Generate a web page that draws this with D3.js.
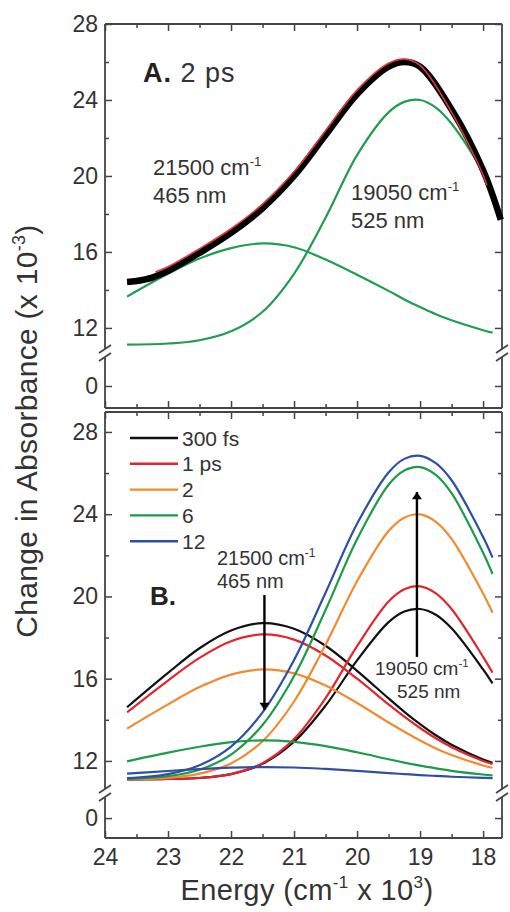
<!DOCTYPE html>
<html>
<head>
<meta charset="utf-8">
<script src="https://cdn.jsdelivr.net/npm/d3@7"></script>
<style>
  body { margin: 0; background: #fff; }
  svg text { font-family: "Liberation Sans", Arial, Helvetica, sans-serif; }
</style>
</head>
<body>
<svg id="chart" width="510" height="912"></svg>
<script>
// ---------- Panel A: 2 ps spectrum, fit and its two bands ----------
const energyA2ps = [23.65, 23.5, 23.25, 23.0, 22.5, 22.0, 21.5, 21.0, 20.5, 20.0, 19.5, 19.25, 19.0, 18.5, 18.0, 17.72];
const data2ps    = [14.42, 14.47, 14.65, 15.0, 15.95, 17.0, 18.3, 20.0, 22.15, 24.3, 25.75, 26.0, 25.75, 23.5, 20.3, 17.7];

const energyFit = [23.2, 23.0, 22.5, 22.0, 21.5, 21.0, 20.5, 20.0, 19.5, 19.25, 19.0, 18.5, 18.0, 17.94];
const fit2ps    = [14.95, 15.22, 16.17, 17.22, 18.52, 20.22, 22.38, 24.52, 25.93, 26.15, 25.82, 23.35, 20.05, 19.5];

const energyBands = [23.65, 23.0, 22.5, 22.0, 21.5, 21.0, 20.5, 20.0, 19.5, 19.25, 19.0, 18.75, 18.5, 18.0, 17.85];
const band465A = [13.65, 14.85, 15.65, 16.2, 16.45, 16.25, 15.6, 14.8, 13.95, 13.5, 13.1, 12.72, 12.4, 11.88, 11.75];
const band525A = [11.12, 11.18, 11.35, 11.82, 12.85, 14.85, 17.8, 21.1, 23.35, 23.9, 24.0, 23.6, 22.75, 20.2, 19.2];

// ---------- Panel B: band decomposition at each delay ----------
const energyB = [23.65, 23.0, 22.5, 22.0, 21.5, 21.0, 20.5, 20.0, 19.5, 19.25, 19.0, 18.75, 18.5, 18.0, 17.85];
const delays = ["300 fs", "1 ps", "2", "6", "12"];
const band465B = [
  [14.61, 16.28, 17.48, 18.34, 18.70, 18.43, 17.60, 16.38, 15.04, 14.39, 13.79, 13.25, 12.79, 12.07, 11.91],
  [14.36, 15.91, 17.01, 17.82, 18.15, 17.90, 17.13, 16.00, 14.75, 14.15, 13.60, 13.10, 12.67, 12.00, 11.85],
  [13.57, 14.75, 15.59, 16.20, 16.45, 16.26, 15.67, 14.82, 13.87, 13.42, 12.99, 12.61, 12.29, 11.78, 11.67],
  [11.98, 12.40, 12.69, 12.91, 13.00, 12.93, 12.72, 12.42, 12.08, 11.92, 11.77, 11.64, 11.52, 11.34, 11.30],
  [11.38, 11.51, 11.60, 11.67, 11.70, 11.68, 11.61, 11.52, 11.41, 11.36, 11.31, 11.27, 11.23, 11.18, 11.16]
];
const band525B = [
  [11.10, 11.12, 11.17, 11.36, 11.86, 12.93, 14.69, 16.89, 18.75, 19.27, 19.39, 19.11, 18.45, 16.45, 15.77],
  [11.10, 11.12, 11.17, 11.36, 11.89, 13.06, 15.05, 17.58, 19.75, 20.35, 20.49, 20.15, 19.39, 17.06, 16.29],
  [11.11, 11.18, 11.38, 11.88, 12.96, 14.89, 17.65, 20.74, 23.18, 23.83, 23.99, 23.63, 22.80, 20.14, 19.21],
  [11.13, 11.26, 11.57, 12.31, 13.75, 16.12, 19.34, 22.78, 25.43, 26.12, 26.29, 25.91, 25.02, 22.12, 21.09],
  [11.16, 11.36, 11.79, 12.70, 14.36, 16.91, 20.18, 23.53, 26.03, 26.69, 26.84, 26.48, 25.65, 22.89, 21.89]
];

// arrows: [energy, from value, to value]
const arrow465 = [21.47, 20.07, 14.48];
const arrow525 = [19.05, 17.06, 25.08];

// axis ticks
const yMajor = [0, 12, 16, 20, 24, 28];
const yMinor = [14, 18, 22, 26];
const xMajor = [18, 19, 20, 21, 22, 23, 24];
const xMinor = [18.5, 19.5, 20.5, 21.5, 22.5, 23.5];

// ---------- layout ----------
const colors = ["#111111", "#e2262e", "#f28a2e", "#1b9c4b", "#2f4fa2"];
const bandGreen = "#1f9d50";
const frameColor = "#444";
const textColor = "#333";
const L = 105, R = 502;

const svg = d3.select("#chart");
const x = d3.scaleLinear().domain([24, 17.7]).range([L, R]);

// broken value axes: the stretch between ~2 and ~10.5 collapses to the break
const panelA = { top: 24, bottom: 408, brk: 353,
  y: d3.scaleLinear().domain([-1.16, 1.74, 10.68, 28]).range([408, 353, 353, 24]) };
const panelB = { top: 412, bottom: 838, brk: 793,
  y: d3.scaleLinear().domain([-0.97, 1.22, 10.44, 28.97]).range([838, 793, 793, 412]) };

function pairs(xs, ys) { return xs.map((e, i) => [e, ys[i]]); }

function drawFrame(p, withXLabels) {
  const g = svg.append("g");
  const y = p.y;
  const gap = 4;
  // ticks on all four sides, pointing inward
  const axes = [
    [d3.axisLeft(y).tickValues(yMajor).tickSize(-7).tickPadding(7).tickFormat(d3.format("d")), `translate(${L},0)`],
    [d3.axisLeft(y).tickValues(yMinor).tickSize(-4).tickFormat(""), `translate(${L},0)`],
    [d3.axisRight(y).tickValues(yMajor).tickSize(-7).tickFormat(""), `translate(${R},0)`],
    [d3.axisRight(y).tickValues(yMinor).tickSize(-4).tickFormat(""), `translate(${R},0)`],
    [d3.axisTop(x).tickValues(xMajor).tickSize(-7).tickFormat(""), `translate(0,${p.top})`],
    [d3.axisTop(x).tickValues(xMinor).tickSize(-4).tickFormat(""), `translate(0,${p.top})`],
    [d3.axisBottom(x).tickValues(xMajor).tickSize(-7).tickPadding(11)
        .tickFormat(withXLabels ? d3.format("d") : ""), `translate(0,${p.bottom})`],
    [d3.axisBottom(x).tickValues(xMinor).tickSize(-4).tickFormat(""), `translate(0,${p.bottom})`]
  ];
  axes.forEach(([ax, tr]) => {
    const a = g.append("g").attr("transform", tr).call(ax);
    a.select(".domain").remove();
    a.selectAll(".tick line").attr("stroke", frameColor).attr("stroke-width", 1.5);
    a.selectAll(".tick text").attr("fill", textColor)
      .style("font-family", '"Liberation Sans", Arial, sans-serif').attr("font-size", 23);
  });
  // frame with gaps at the break
  const seg = (x1, y1, x2, y2) => g.append("line")
    .attr("x1", x1).attr("y1", y1).attr("x2", x2).attr("y2", y2)
    .attr("stroke", frameColor).attr("stroke-width", 1.8);
  seg(L, p.top, R, p.top);
  seg(L, p.bottom, R, p.bottom);
  [L, R].forEach(xx => {
    seg(xx, p.top, xx, p.brk - gap);
    seg(xx, p.brk + gap, xx, p.bottom);
    seg(xx - 6, p.brk - gap + 4, xx + 6, p.brk - gap - 4);
    seg(xx - 6, p.brk + gap + 4, xx + 6, p.brk + gap - 4);
  });
}

function curve(p, xs, ys, color, width) {
  const line = d3.line().x(d => x(d[0])).y(d => p.y(d[1])).curve(d3.curveCatmullRom.alpha(0.5));
  svg.append("path").datum(pairs(xs, ys)).attr("d", line)
    .attr("fill", "none").attr("stroke", color).attr("stroke-width", width)
    .attr("stroke-linejoin", "round");
}

function label(xp, yp, main, sup, size) {
  const t = svg.append("text").attr("x", xp).attr("y", yp).attr("font-size", size).attr("fill", textColor);
  t.append("tspan").text(main);
  if (sup) t.append("tspan").attr("dy", -size * 0.42).attr("font-size", size * 0.6).text(sup);
  return t;
}

// ---------- Panel A ----------
drawFrame(panelA, false);
curve(panelA, energyBands, band465A, bandGreen, 2.2);
curve(panelA, energyBands, band525A, bandGreen, 2.2);
curve(panelA, energyA2ps, data2ps, "#000", 6.5);
curve(panelA, energyFit, fit2ps, "#e3343b", 1.6);

const titleA = svg.append("text").attr("x", 143).attr("y", 82).attr("font-size", 27)
  .attr("letter-spacing", 1).attr("fill", textColor);
titleA.append("tspan").attr("font-weight", "bold").attr("fill", "#222").text("A.");
titleA.append("tspan").text(" 2 ps");

label(153, 175, "21500 cm", "-1", 22);
label(153, 203, "465 nm", null, 22);
label(351, 200, "19050 cm", "-1", 22);
label(351, 228, "525 nm", null, 22);

// ---------- Panel B ----------
drawFrame(panelB, true);
delays.forEach((d, i) => {
  curve(panelB, energyB, band465B[i], colors[i], 2.2);
  curve(panelB, energyB, band525B[i], colors[i], 2.2);
});

// legend
delays.forEach((d, i) => {
  const yy = 438 + i * 25.8;
  svg.append("line").attr("x1", 130).attr("x2", 178).attr("y1", yy).attr("y2", yy)
    .attr("stroke", colors[i]).attr("stroke-width", 2.4);
  svg.append("text").attr("x", 182).attr("y", yy + 7.5).attr("font-size", 21)
    .attr("fill", textColor).text(d);
});

svg.append("text").attr("x", 150).attr("y", 605).attr("font-size", 26)
  .attr("font-weight", "bold").attr("fill", "#222").text("B.");

label(217, 565, "21500 cm", "-1", 20);
label(217, 588, "465 nm", null, 20);
label(375, 675, "19050 cm", "-1", 19);
label(397, 698, "525 nm", null, 19);

// arrows
svg.append("defs").append("marker").attr("id", "head")
  .attr("viewBox", "0 0 10 14").attr("refX", 10).attr("refY", 7)
  .attr("markerWidth", 14).attr("markerHeight", 10).attr("markerUnits", "userSpaceOnUse")
  .attr("orient", "auto")
  .append("path").attr("d", "M0,0 L10,7 L0,14 Z").attr("fill", "#000");
[arrow465, arrow525].forEach(([e, v0, v1]) => {
  svg.append("line").attr("x1", x(e)).attr("x2", x(e))
    .attr("y1", panelB.y(v0)).attr("y2", panelB.y(v1))
    .attr("stroke", "#000").attr("stroke-width", 2.4).attr("marker-end", "url(#head)");
});

// ---------- axis titles ----------
const xt = svg.append("text").attr("x", 307).attr("y", 900).attr("text-anchor", "middle")
  .attr("font-size", 29).attr("letter-spacing", 0.4).attr("fill", textColor);
xt.append("tspan").text("Energy (cm");
xt.append("tspan").attr("dy", -12).attr("font-size", 17).text("-1");
xt.append("tspan").attr("dy", 12).text(" x 10");
xt.append("tspan").attr("dy", -12).attr("font-size", 17).text("3");
xt.append("tspan").attr("dy", 12).text(")");

const yt = svg.append("text").attr("transform", "translate(37,431) rotate(-90)")
  .attr("text-anchor", "middle").attr("font-size", 30).attr("letter-spacing", 0.3)
  .attr("fill", textColor);
yt.append("tspan").text("Change in Absorbance (x 10");
yt.append("tspan").attr("dy", -12).attr("font-size", 18).text("-3");
yt.append("tspan").attr("dy", 12).text(")");
</script>
</body>
</html>
